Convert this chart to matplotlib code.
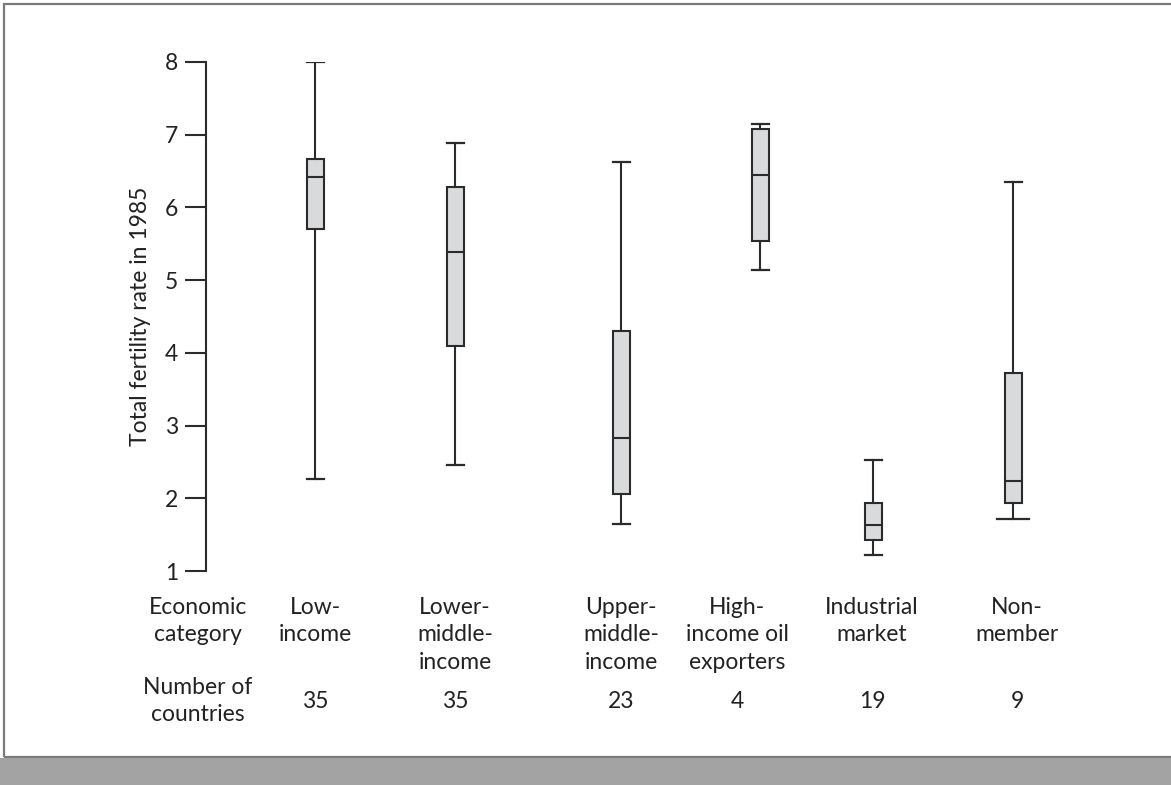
import matplotlib
matplotlib.use("Agg")
import matplotlib.pyplot as plt
from matplotlib.patches import Rectangle
from matplotlib.transforms import blended_transform_factory

plt.rcParams['font.family'] = ['Lato', 'DejaVu Sans']

# Economic categories and the number of countries in each
categories = ["Low-\nincome", "Lower-\nmiddle-\nincome", "Upper-\nmiddle-\nincome",
              "High-\nincome oil\nexporters", "Industrial\nmarket", "Non-\nmember"]
n_countries = [35, 35, 23, 4, 19, 9]

# Five-number summaries of total fertility rate in 1985
whisker_low = [2.27, 2.46, 1.65, 5.14, 1.22, 1.72]
q1 = [5.70, 4.09, 2.06, 5.54, 1.43, 1.94]
median = [6.42, 5.39, 2.83, 6.45, 1.63, 2.24]
q3 = [6.67, 6.28, 4.30, 7.08, 1.94, 3.72]
whisker_high = [8.00, 6.89, 6.63, 7.15, 2.53, 6.35]

yticks = [1, 2, 3, 4, 5, 6, 7, 8]

W, H = 1171, 785
fig = plt.figure(figsize=(W / 100, H / 100), dpi=100)

# page frame and the grey strip along the bottom
fig.patches.append(Rectangle((4 / W, 28 / H), 1.2, 1 - 32 / H, transform=fig.transFigure,
                             fill=False, edgecolor="#7a7a7a", linewidth=1.6))
fig.patches.append(Rectangle((0, 0), 1, 27 / H, transform=fig.transFigure,
                             facecolor="#a3a3a3", edgecolor="none"))

ax_left, ax_right = 206, 1171
ax_top, ax_bottom = 62, 571
ax = fig.add_axes([ax_left / W, 1 - ax_bottom / H, (ax_right - ax_left) / W,
                   (ax_bottom - ax_top) / H])
ax.set_xlim(ax_left, ax_right)
ax.set_ylim(1, 8)

box_x = [315, 455, 621, 760, 873, 1013]
label_x = [315, 455, 621, 737, 872, 1017]

stats = []
for i in range(len(categories)):
    stats.append(dict(whislo=whisker_low[i], q1=q1[i], med=median[i], q3=q3[i],
                      whishi=whisker_high[i], fliers=[]))

line_c = "#2b2b2b"
txt_c = "#222222"
res = ax.bxp(stats, positions=box_x, widths=17, patch_artist=True, showfliers=False,
             manage_ticks=False, capwidths=17,
             boxprops=dict(facecolor="#d9dadb", edgecolor=line_c, linewidth=1.5),
             whiskerprops=dict(color=line_c, linewidth=1.5),
             capprops=dict(color=line_c, linewidth=1.6),
             medianprops=dict(color=line_c, linewidth=1.5))
# wider lower cap on the last box
low_cap = res['caps'][-2]
low_cap.set_xdata([box_x[-1] - 16, box_x[-1] + 16])

for s in ["top", "right", "bottom"]:
    ax.spines[s].set_visible(False)
ax.spines["left"].set_linewidth(1.5)
ax.spines["left"].set_color(line_c)
ax.set_xticks([])
ax.set_yticks(yticks)
ax.tick_params(axis="y", length=15, width=1.5, color=line_c, pad=5,
               labelsize=16.5, labelcolor=txt_c)
ax.set_ylabel("Total fertility rate in 1985", fontsize=16.5, color=txt_c, labelpad=10)

fs = 16.5
ls = 1.37
tr = blended_transform_factory(ax.transData, fig.transFigure)
row1_y = 1 - 597 / H
row2_y = 1 - 701 / H
for x, cat, n in zip(label_x, categories, n_countries):
    ax.text(x, row1_y, cat, transform=tr, ha="center", va="top", fontsize=fs,
            linespacing=ls, color=txt_c)
    ax.text(x, row2_y, str(n), transform=tr, ha="center", va="center", fontsize=fs,
            color=txt_c)
fig.text(198 / W, row1_y, "Economic\ncategory", ha="center", va="top", fontsize=fs,
         linespacing=ls, color=txt_c)
fig.text(198 / W, row2_y, "Number of\ncountries", ha="center", va="center", fontsize=fs,
         linespacing=ls, color=txt_c)

fig.savefig("out.png", dpi=100)
